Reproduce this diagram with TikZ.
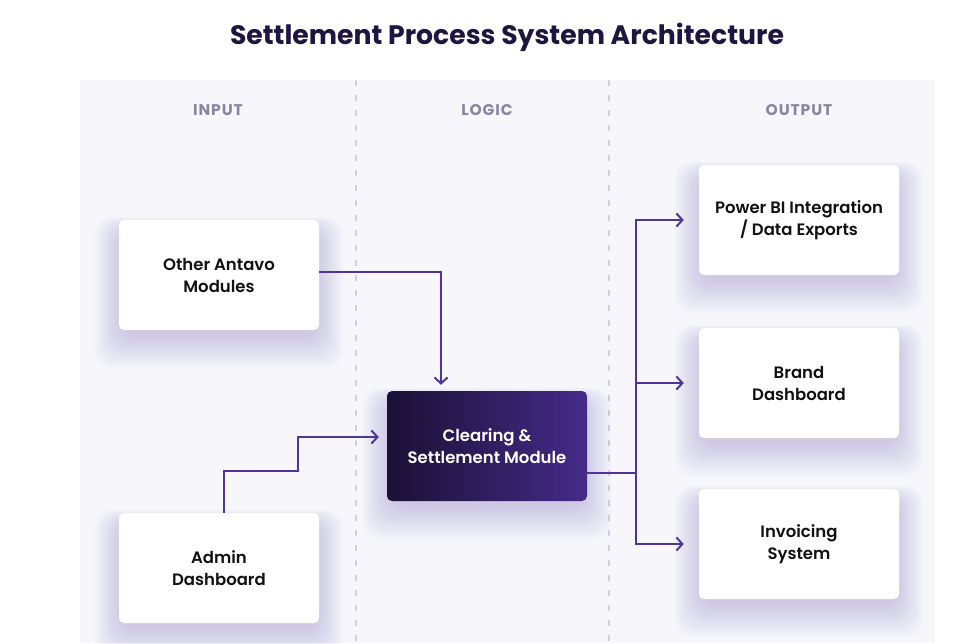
\documentclass[tikz,border=0pt]{standalone}
\usepackage{fontspec}
\setmainfont{Poppins}
\newfontfamily\semib{Poppins SemiBold}
\usetikzlibrary{arrows.meta}
\definecolor{panel}{HTML}{F6F6FB}
\definecolor{dashc}{HTML}{D2CEE6}
\definecolor{headc}{HTML}{8A84A2}
\definecolor{titlec}{HTML}{1E1540}
\definecolor{arrowc}{HTML}{4E3699}
\definecolor{gradl}{HTML}{1A1035}
\definecolor{gradr}{HTML}{452B89}
\definecolor{boxtext}{HTML}{111111}
\definecolor{shadowc}{HTML}{5A4CA8}
\tikzset{
  box/.style={rectangle, rounded corners=5pt, fill=white, minimum width=200pt, minimum height=110pt,
    align=center, inner sep=0pt, font=\semib\fontsize{16.5}{22}\selectfont, text=boxtext},
  darkbox/.style={rectangle, rounded corners=5pt, left color=gradl, right color=gradr, minimum width=200pt, minimum height=110pt,
    align=center, inner sep=0pt, font=\semib\fontsize{16.5}{22}\selectfont, text=white},
  head/.style={font=\bfseries\fontsize{15.5}{17}\selectfont\addfontfeature{LetterSpace=6}, text=headc},
  sep/.style={draw=dashc, line width=1.6pt, dash pattern=on 6pt off 9pt},
  conn/.style={draw=arrowc, line width=2pt, -{Straight Barb[length=6pt,width=13pt]}},
  plain/.style={draw=arrowc, line width=2pt},
  shadowpiece/.style={fill=shadowc, opacity=0.006, rounded corners=18pt},
}
\newcommand\boxshadow[2]{%
  \begin{scope}[shift={(#1,#2)}]
    \foreach \r in {1,...,24}{\fill[shadowpiece] (-96-1.2*\r,-44-0.6*\r) rectangle (96+1.2*\r,58+1.5*\r);}
  \end{scope}}
\begin{document}
\begin{tikzpicture}[x=1pt,y=-1pt]
\useasboundingbox (0,0) rectangle (964,643);
\fill[white] (0,0) rectangle (964,643);
\fill[panel] (80,80) rectangle (935,643);
\draw[sep] (356,80) -- (356,643);
\draw[sep] (609,80) -- (609,643);
\node[font=\bfseries\fontsize{26.7}{32}\selectfont, text=titlec] (title) at (507,37) {Settlement Process System Architecture};
\node[head] (hin) at (218,110) {INPUT};
\node[head] (hlog) at (487,110) {LOGIC};
\node[head] (hout) at (799,110) {OUTPUT};

\begin{scope}
\clip (80,80) rectangle (935,643);
\boxshadow{219}{275}
\boxshadow{219}{568}
\boxshadow{487}{446}
\boxshadow{799}{220}
\boxshadow{799}{383}
\boxshadow{799}{544}
\end{scope}

\node[box] (other) at (219,275) {Other Antavo\\Modules};
\node[box] (admin) at (219,568) {Admin\\Dashboard};
\node[darkbox] (clr) at (487,446) {Clearing \&\\Settlement Module};
\node[box] (pbi) at (799,220) {Power BI Integration\\/ Data Exports};
\node[box] (brand) at (799,383) {Brand\\Dashboard};
\node[box] (inv) at (799,544) {Invoicing\\System};

\draw[conn, shorten >=6pt] ([yshift=3pt]other.east) -| ([xshift=-46pt]clr.north);
\draw[conn, shorten >=8pt] ([xshift=5pt]admin.north) |- (298,471) |- ([yshift=9pt]clr.west);
\coordinate (bus) at (636,473);
\draw[plain] ([yshift=-27pt]clr.east) -- (bus);
\draw[conn, shorten >=15pt] (bus) |- (pbi.west);
\draw[conn, shorten >=15pt] (bus) |- (brand.west);
\draw[conn, shorten >=15pt] (bus) |- (inv.west);
\end{tikzpicture}
\end{document}
